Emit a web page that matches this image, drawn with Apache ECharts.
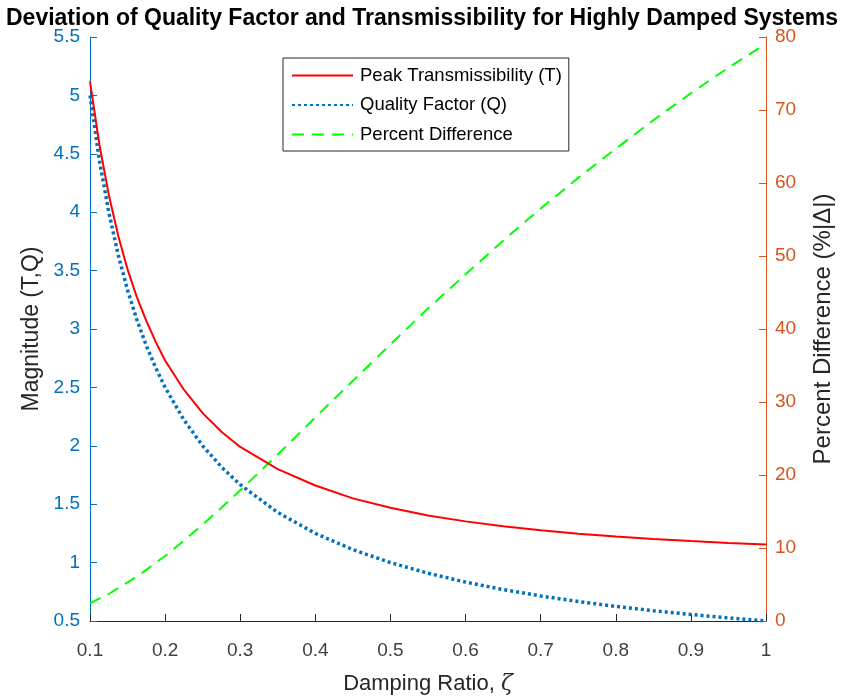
<!DOCTYPE html>
<html>
<head>
<meta charset="utf-8">
<title>Deviation of Quality Factor and Transmissibility</title>
<script src="https://cdn.jsdelivr.net/npm/echarts@6/dist/echarts.min.js"></script>
<style>
  html, body { margin: 0; padding: 0; background: #fff; }
  #main { width: 844px; height: 700px; }
</style>
</head>
<body>
<div id="main"></div>
<script>
// damping ratio (x)
var zeta = [0.1, 0.1125, 0.125, 0.1375, 0.15, 0.1625, 0.175, 0.1875, 0.2, 0.225, 0.25, 0.275,
            0.3, 0.35, 0.4, 0.45, 0.5, 0.55, 0.6, 0.65, 0.7, 0.75, 0.8, 0.85, 0.9, 0.95, 1.0];
// peak transmissibility T (left axis)
var peakT = [5.12, 4.58, 4.15, 3.80, 3.51, 3.27, 3.07, 2.89, 2.73, 2.48, 2.28, 2.12,
             1.99, 1.80, 1.66, 1.55, 1.47, 1.404, 1.353, 1.311, 1.277, 1.248, 1.223, 1.202, 1.184, 1.168, 1.155];
// quality factor Q (left axis)
var qualQ = [5.0, 4.444, 4.0, 3.636, 3.333, 3.077, 2.857, 2.667, 2.5, 2.222, 2.0, 1.818,
             1.667, 1.429, 1.25, 1.111, 1.0, 0.909, 0.833, 0.769, 0.714, 0.667, 0.625, 0.588, 0.556, 0.526, 0.5];
// percent difference (right axis)
var pctDiff = [2.4, 3.1, 3.7, 4.5, 5.3, 6.1, 7.0, 8.0, 8.9, 11.0, 13.2, 15.5,
               17.9, 22.8, 27.9, 32.9, 37.9, 42.8, 47.5, 52.1, 56.5, 60.7, 64.7, 68.6, 72.3, 75.8, 79.1];

var seriesNames = ['Peak Transmissibility (T)', 'Quality Factor (Q)', 'Percent Difference'];

function pairs(xs, ys) {
  var out = [];
  for (var i = 0; i < xs.length; i++) out.push([xs[i], ys[i]]);
  return out;
}

var FONT = '"Liberation Sans", Arial, Helvetica, sans-serif';
var chart = echarts.init(document.getElementById('main'));

var option = {
  animation: false,
  textStyle: { fontFamily: FONT },
  title: {
    text: 'Deviation of Quality Factor and Transmissibility for Highly Damped Systems',
    left: 'center',
    top: 2,
    textStyle: { fontFamily: FONT, fontSize: 23, fontWeight: 'bold', color: '#000' }
  },
  legend: {
    data: seriesNames,
    orient: 'vertical',
    left: 283,
    top: 58,
    padding: [8, 7, 7, 8],
    itemGap: 10.5,
    itemWidth: 61,
    itemHeight: 18,
    backgroundColor: '#fff',
    borderColor: '#262626',
    borderWidth: 1,
    borderRadius: 0,
    itemStyle: { opacity: 0 },
    textStyle: { fontFamily: FONT, fontSize: 18.5, lineHeight: 18, color: '#000', padding: [0, 0, 0, 2] }
  },
  grid: { left: 90, right: 78, top: 37, bottom: 77 },
  xAxis: {
    type: 'value',
    min: 0.1,
    max: 1,
    interval: 0.1,
    name: 'Damping Ratio, {i|ζ}',
    nameLocation: 'middle',
    nameGap: 52,
    nameTextStyle: {
      fontFamily: FONT, fontSize: 22, color: '#262626',
      rich: { i: { fontFamily: '"DejaVu Serif", serif', fontStyle: 'italic', fontSize: 22, color: '#262626' } }
    },
    axisLine: { show: true, lineStyle: { color: '#262626', width: 1 } },
    axisTick: { show: true, inside: true, length: 7, lineStyle: { color: '#262626' } },
    axisLabel: { color: '#404040', fontSize: 19, margin: 20,
      formatter: function (v) { return String(Math.round(v * 10) / 10); } },
    splitLine: { show: false }
  },
  yAxis: [
    {
      type: 'value',
      position: 'left',
      min: 0.5,
      max: 5.5,
      interval: 0.5,
      name: 'Magnitude (T,Q)',
      nameLocation: 'middle',
      nameRotate: 90,
      nameGap: 46,
      nameTextStyle: { fontFamily: FONT, fontSize: 23, color: '#262626' },
      axisLine: { show: true, lineStyle: { color: '#0072BD', width: 1 } },
      axisTick: { show: true, inside: true, length: 7, lineStyle: { color: '#0072BD' } },
      axisLabel: { color: '#0072BD', fontSize: 19, margin: 10,
        formatter: function (v) { return String(Math.round(v * 10) / 10); } },
      splitLine: { show: false }
    },
    {
      type: 'value',
      position: 'right',
      min: 0,
      max: 80,
      interval: 10,
      name: 'Percent Difference (%|Δ|)',
      nameLocation: 'middle',
      nameRotate: 90,
      nameGap: 45,
      nameTextStyle: { fontFamily: FONT, fontSize: 24, color: '#262626' },
      axisLine: { show: true, lineStyle: { color: '#D95319', width: 1 } },
      axisTick: { show: true, inside: true, length: 7, lineStyle: { color: '#D95319' } },
      axisLabel: { color: '#D95319', fontSize: 19, margin: 9 },
      splitLine: { show: false }
    }
  ],
  series: [
    {
      name: seriesNames[0],
      type: 'line',
      yAxisIndex: 0,
      data: pairs(zeta, peakT),
      showSymbol: false,
      symbol: 'none',
      smooth: false,
      lineStyle: { color: '#FF0000', width: 2, type: 'solid' },
      itemStyle: { color: '#FF0000' },
      z: 3
    },
    {
      name: seriesNames[1],
      type: 'line',
      yAxisIndex: 0,
      data: pairs(zeta, qualQ),
      showSymbol: false,
      symbol: 'none',
      smooth: false,
      lineStyle: { color: '#0072BD', width: 3.5, type: [3, 3] },
      itemStyle: { color: '#0072BD' },
      z: 2
    },
    {
      name: seriesNames[2],
      type: 'line',
      yAxisIndex: 1,
      data: pairs(zeta, pctDiff),
      showSymbol: false,
      symbol: 'none',
      smooth: false,
      lineStyle: { color: '#00FF00', width: 2, type: [12, 8] },
      itemStyle: { color: '#00FF00' },
      z: 2
    }
  ]
};

chart.setOption(option);
</script>
</body>
</html>
